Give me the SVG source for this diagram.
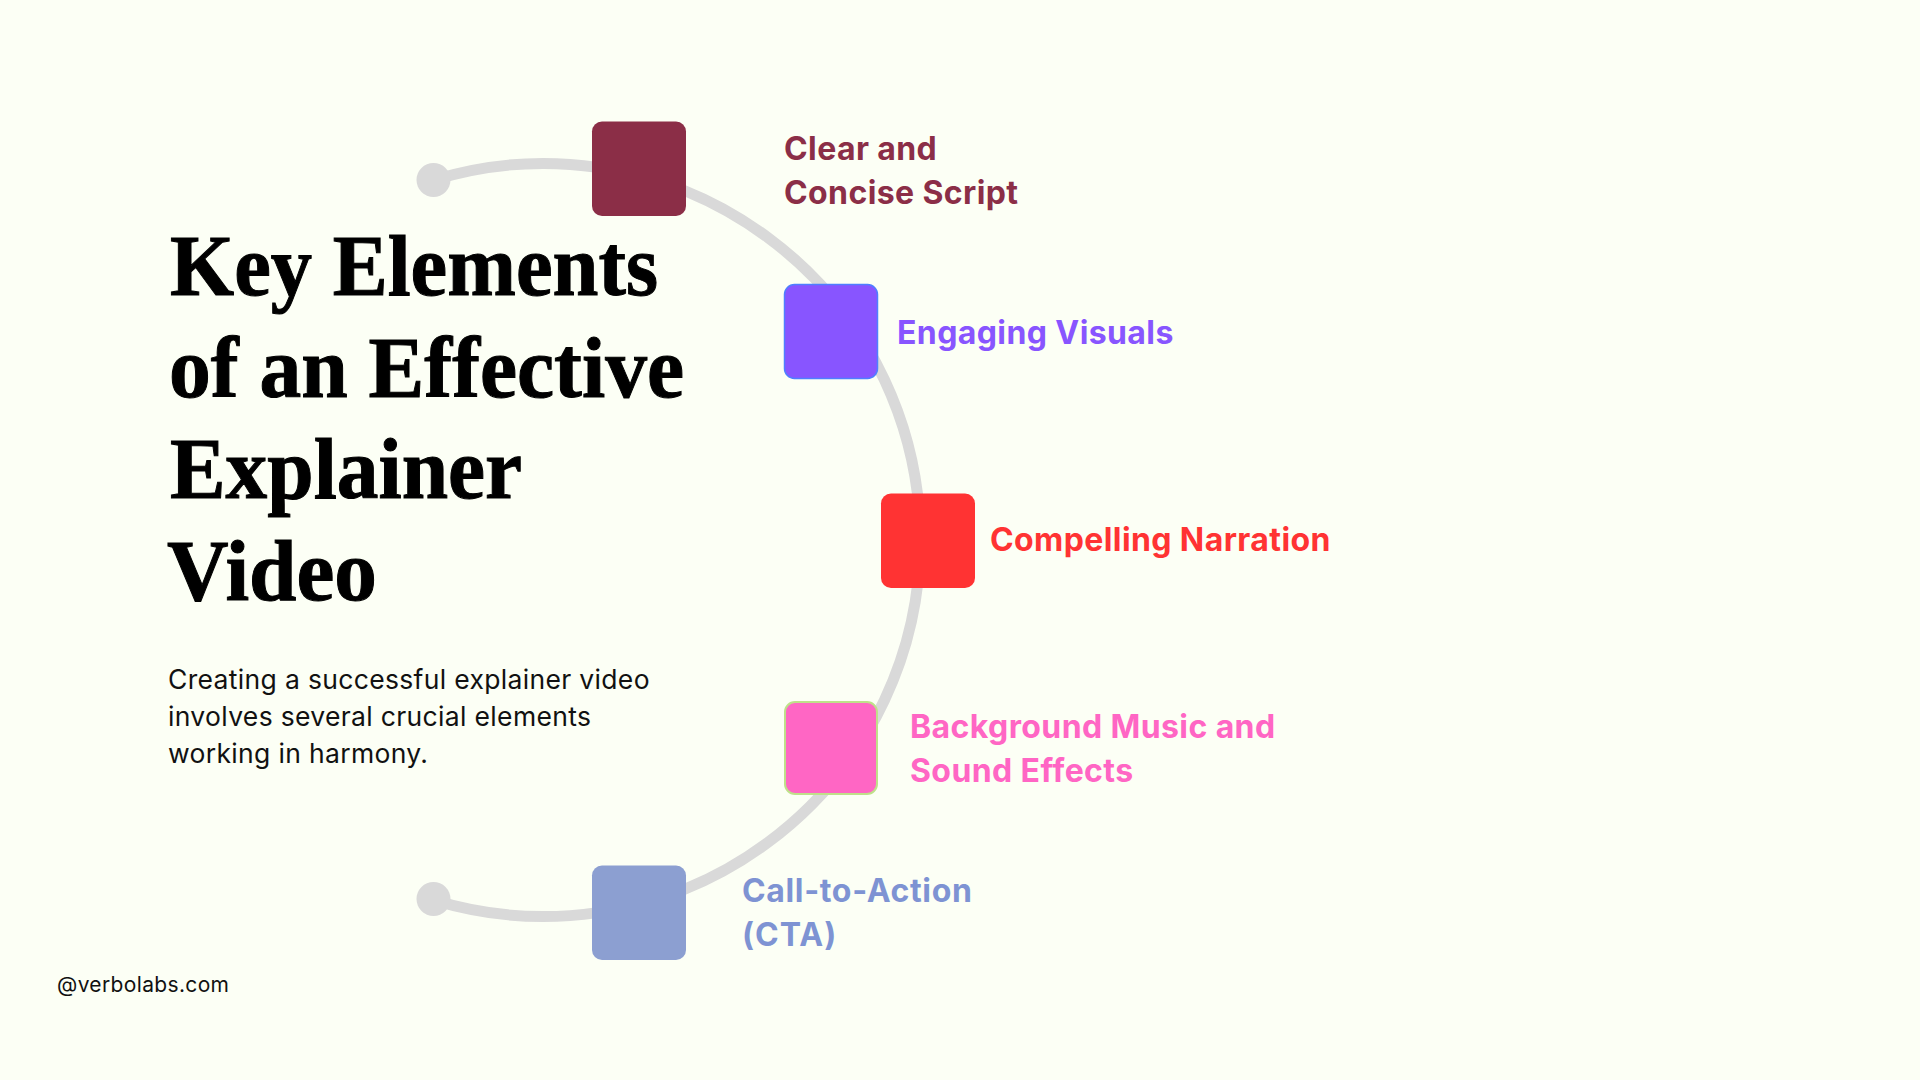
<svg xmlns="http://www.w3.org/2000/svg" width="1920" height="1080" viewBox="0 0 1920 1080">
<style>
.t{font-family:"Liberation Serif",serif;font-weight:700;font-size:86px;fill:#000;stroke:#000;stroke-width:1px}
.l{font-family:Inter,"Liberation Sans",sans-serif;font-weight:700;font-size:32px;letter-spacing:.4px}
.b{font-family:Inter,"Liberation Sans",sans-serif;font-size:26.5px;fill:#111;letter-spacing:.33px}
.f{font-family:Inter,"Liberation Sans",sans-serif;font-size:21px;fill:#111;letter-spacing:.35px}
.n{rx:10px;ry:10px}
</style>
<rect width="1920" height="1080" fill="#FCFFF5"/>
<g id="connectors">
<path d="M433.500 180A376.500 376.500 0 1 1 433.500 900" fill="none" stroke="#D9D9D9" stroke-width="11"/>
<circle cx="433.500" cy="180" r="17" fill="#D9D9D9"/>
<circle cx="433.500" cy="899" r="17" fill="#D9D9D9"/>
</g>
<g id="title">
<text class="t" x="170" y="295" textLength="488" lengthAdjust="spacingAndGlyphs">Key Elements</text>
<text class="t" x="169" y="397" textLength="515" lengthAdjust="spacingAndGlyphs">of an Effective</text>
<text class="t" x="170" y="498" textLength="352" lengthAdjust="spacingAndGlyphs">Explainer</text>
<text class="t" x="167" y="600" textLength="210" lengthAdjust="spacingAndGlyphs">Video</text>
</g>
<g id="desc">
<text class="b" x="168" y="689">Creating a successful explainer video</text>
<text class="b" x="168" y="726">involves several crucial elements</text>
<text class="b" x="168" y="763">working in harmony.</text>
</g>
<g id="node-1"><rect class="n" x="592" y="121.500" width="94" height="94.500" fill="#8B2E47"/>
<text class="l" fill="#8B2E47" x="784" y="160">Clear and</text><text class="l" fill="#8B2E47" x="784" y="204">Concise Script</text></g>
<g id="node-2"><rect class="n" x="784.500" y="284.500" width="93" height="94" fill="#8855FF" stroke="#4F7FFF" stroke-width="1.500"/>
<text class="l" fill="#8855FF" x="897" y="344">Engaging Visuals</text></g>
<g id="node-3"><rect class="n" x="881" y="493.500" width="94" height="94.500" fill="#FF3333"/>
<text class="l" fill="#FF3333" x="990" y="551">Compelling Narration</text></g>
<g id="node-4"><rect class="n" x="785" y="702" width="92" height="92" fill="#FF66C4" stroke="#BFE08A" stroke-width="2"/>
<text class="l" fill="#FF66C4" x="910" y="738">Background Music and</text><text class="l" fill="#FF66C4" x="910" y="782">Sound Effects</text></g>
<g id="node-5"><rect class="n" x="592" y="865.500" width="94" height="94.500" fill="#8C9FD1"/>
<text class="l" fill="#7E93D3" x="742" y="902" style="letter-spacing:.65px">Call-to-Action</text><text class="l" fill="#7E93D3" x="742" y="946" style="letter-spacing:1px">(CTA)</text></g>
<text class="f" x="57" y="992">@verbolabs.com</text>
</svg>
